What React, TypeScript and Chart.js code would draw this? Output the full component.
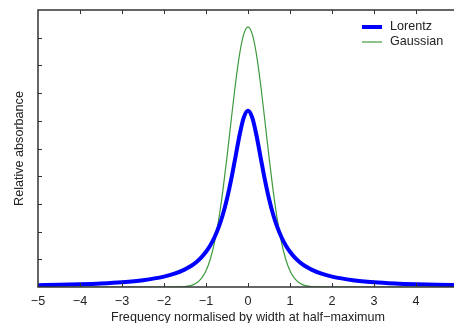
import React, { useEffect, useRef } from "react";
import { Chart, registerables } from "chart.js";

Chart.register(...registerables);

const xValues = [
  -5, -4.5, -4, -3.5, -3, -2.5, -2, -1.75, -1.5, -1.4, -1.3, -1.2, -1.1, -1.0,
  -0.9, -0.8, -0.7, -0.6, -0.5, -0.4, -0.3, -0.2, -0.1, 0,
  0.1, 0.2, 0.3, 0.4, 0.5, 0.6, 0.7, 0.8, 0.9, 1.0, 1.1, 1.2, 1.3, 1.4, 1.5,
  1.75, 2, 2.5, 3, 3.5, 4, 4.5, 5,
];

const lorentzValues = [
  0.0063, 0.0078, 0.0098, 0.0127, 0.0172, 0.0245, 0.0374, 0.048, 0.0637, 0.072,
  0.082, 0.0942, 0.109, 0.1273, 0.1501, 0.1788, 0.2151, 0.2609, 0.3183, 0.3882,
  0.4681, 0.5488, 0.6121, 0.6366,
  0.6121, 0.5488, 0.4681, 0.3882, 0.3183, 0.2609, 0.2151, 0.1788, 0.1501, 0.1273,
  0.109, 0.0942, 0.082, 0.072, 0.0637, 0.048, 0.0374, 0.0245, 0.0172, 0.0127,
  0.0098, 0.0078, 0.0063,
];

const gaussianValues = [
  0, 0, 0, 0, 0, 0, 0, 0.0002, 0.0018, 0.0041, 0.0087, 0.0174, 0.0328, 0.0587,
  0.0994, 0.1593, 0.2416, 0.3463, 0.4697, 0.6028, 0.732, 0.8408, 0.9138, 0.9394,
  0.9138, 0.8408, 0.732, 0.6028, 0.4697, 0.3463, 0.2416, 0.1593, 0.0994, 0.0587,
  0.0328, 0.0174, 0.0087, 0.0041, 0.0018, 0.0002, 0, 0, 0, 0, 0, 0, 0,
];

const xTicks = [-5, -4, -3, -2, -1, 0, 1, 2, 3, 4, 5];
const yTicks = [0, 0.1, 0.2, 0.3, 0.4, 0.5, 0.6, 0.7, 0.8, 0.9, 1];

const seriesNames = ["Lorentz", "Gaussian"];
const FONT = "'Liberation Sans', Arial, Helvetica, sans-serif";
const FONT_SIZE = 12.6;
const AXIS_COLOR = "#333333";
const TEXT_COLOR = "#222222";

const framePlugin = {
  id: "frame",
  afterDraw(chart: any) {
    const { ctx, chartArea } = chart;
    const { left, right, top, bottom } = chartArea;
    const xs = chart.scales.x;
    const ys = chart.scales.y;
    ctx.save();
    ctx.strokeStyle = AXIS_COLOR;
    ctx.lineWidth = 1;
    const tl = 4;
    ctx.beginPath();
    xTicks.forEach((v) => {
      const px = Math.round(xs.getPixelForValue(v)) + 0.5;
      if (px <= left + 1 || px >= right - 1) return;
      ctx.moveTo(px, bottom);
      ctx.lineTo(px, bottom - tl);
      ctx.moveTo(px, top);
      ctx.lineTo(px, top + tl);
    });
    yTicks.forEach((v) => {
      const py = Math.round(ys.getPixelForValue(v)) + 0.5;
      if (py <= top + 1 || py >= bottom - 1) return;
      ctx.moveTo(left, py);
      ctx.lineTo(left + tl, py);
      ctx.moveTo(right, py);
      ctx.lineTo(right - tl, py);
    });
    ctx.stroke();
    ctx.lineWidth = 1.5;
    ctx.strokeRect(left, top, right - left, bottom - top);

    // legend
    const lx = right - 96;
    const rows = [top + 17, top + 32];
    chart.data.datasets.forEach((ds: any, i: number) => {
      const y = rows[i];
      ctx.strokeStyle = ds.borderColor;
      ctx.lineWidth = ds.borderWidth;
      ctx.beginPath();
      ctx.moveTo(lx, y);
      ctx.lineTo(lx + 20, y);
      ctx.stroke();
      ctx.fillStyle = TEXT_COLOR;
      ctx.font = `${FONT_SIZE}px ${FONT}`;
      ctx.textBaseline = "middle";
      ctx.textAlign = "left";
      ctx.fillText(ds.label, lx + 28, y);
    });
    ctx.restore();
  },
};

export default function App() {
  const ref = useRef<HTMLCanvasElement>(null);

  useEffect(() => {
    if (!ref.current) return;
    const chart = new Chart(ref.current, {
      type: "line",
      data: {
        datasets: [
          {
            label: seriesNames[0],
            data: xValues.map((x, i) => ({ x, y: lorentzValues[i] })),
            borderColor: "#0000ff",
            borderWidth: 4,
            pointRadius: 0,
            cubicInterpolationMode: "monotone",
            fill: false,
          },
          {
            label: seriesNames[1],
            data: xValues.map((x, i) => ({ x, y: gaussianValues[i] })),
            borderColor: "#3f9a3f",
            borderWidth: 1.2,
            pointRadius: 0,
            cubicInterpolationMode: "monotone",
            fill: false,
          },
        ],
      },
      options: {
        responsive: false,
        animation: false,
        layout: { padding: { top: 10, right: 12, left: 0, bottom: 0 } },
        plugins: {
          legend: { display: false },
          tooltip: { enabled: false },
        },
        scales: {
          x: {
            type: "linear",
            min: -5,
            max: 5,
            afterFit(scale: any) {
              scale.height = 38;
            },
            afterBuildTicks(scale: any) {
              scale.ticks = xTicks.map((v) => ({ value: v }));
            },
            grid: { display: false, drawTicks: false },
            border: { display: false },
            ticks: {
              padding: 7,
              color: TEXT_COLOR,
              font: { family: FONT, size: FONT_SIZE },
              maxRotation: 0,
              autoSkip: false,
              callback: (v: any) => String(v).replace("-", "\u2212"),
            },
            title: {
              display: true,
              text: "Frequency normalised by width at half\u2212maximum",
              color: TEXT_COLOR,
              font: { family: FONT, size: FONT_SIZE },
              padding: { top: 0, bottom: 0 },
            },
          },
          y: {
            type: "linear",
            min: 0,
            max: 1,
            afterFit(scale: any) {
              scale.width = 38;
            },
            afterBuildTicks(scale: any) {
              scale.ticks = yTicks.map((v) => ({ value: v }));
            },
            grid: { display: false, drawTicks: false },
            border: { display: false },
            ticks: { display: false },
            title: {
              display: true,
              text: "Relative absorbance",
              color: TEXT_COLOR,
              font: { family: FONT, size: FONT_SIZE },
              padding: { top: 12, bottom: 0 },
            },
          },
        },
      },
      plugins: [framePlugin],
    } as any);
    return () => chart.destroy();
  }, []);

  return (
    <div
      style={{
        position: "fixed",
        left: 0,
        top: 0,
        width: 454,
        height: 323,
        overflow: "hidden",
        background: "#fff",
      }}
    >
      <canvas ref={ref} width={470} height={325} style={{ display: "block" }} />
    </div>
  );
}
